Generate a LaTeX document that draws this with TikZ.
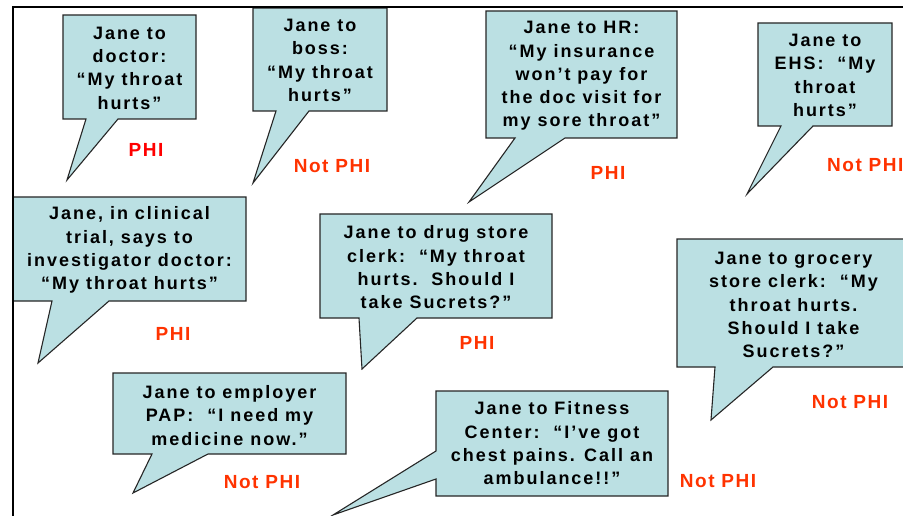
\documentclass[tikz,border=0pt]{standalone}
\usepackage{fontspec}
\newfontfamily\calloutfont[LetterSpace=11]{Liberation Sans}
\newfontfamily\labelfont[LetterSpace=8]{Liberation Sans}
\definecolor{bubblefill}{RGB}{187,224,227}
\definecolor{phired}{RGB}{255,0,0}
\definecolor{notred}{RGB}{255,51,0}
\begin{document}
\begin{tikzpicture}[x=1pt,y=-1pt,
  bubble/.style={fill=bubblefill, draw=black!85, line width=1.1pt, line join=miter},
  said/.style={align=center, font=\calloutfont\bfseries\fontsize{18}{23.3}\selectfont, inner sep=0pt},
  verdict/.style={font=\labelfont\bfseries\fontsize{19}{20}\selectfont, inner sep=0pt},
  frameline/.style={draw=black, line width=2pt}]
\useasboundingbox (0,0) rectangle (903,516);
\fill[white] (0,0) rectangle (903,516);

% 1 doctor
\draw[bubble] (63,15) -- (196,15) -- (196,119) -- (118,119) -- (67,180) -- (86,119) -- (63,119) -- cycle;
\node[said] (s1) at (129.5,68) {Jane to\\doctor:\\“My throat\\hurts”};
% 2 boss
\draw[bubble] (253,8) -- (387,8) -- (387,111) -- (309,111) -- (253,183) -- (276,111) -- (253,111) -- cycle;
\node[said] (s2) at (320,60.5) {Jane to\\boss:\\“My throat\\hurts”};
% 3 HR
\draw[bubble] (486,11) -- (677,11) -- (677,138) -- (565,138) -- (469,202) -- (515,138) -- (486,138) -- cycle;
\node[said] (s3) at (581.5,76) {Jane to HR:\\“My insurance\\won’t pay for\\the doc visit for\\my sore throat”};
% 4 EHS
\draw[bubble] (758,23) -- (892,23) -- (892,126) -- (813,126) -- (747,194) -- (781,126) -- (758,126) -- cycle;
\node[said] (s4) at (825,75.5) {Jane to\\EHS:\ \ “My\\throat\\hurts”};
% 5 clinical
\draw[bubble] (13,197) -- (246,197) -- (246,301) -- (109,301) -- (38,363) -- (52,301) -- (13,301) -- cycle;
\node[said] (s5) at (129.5,250) {Jane, in clinical\\trial, says to\\investigator doctor:\\“My throat hurts”};
% 6 drug store
\draw[bubble] (320,214) -- (552,214) -- (552,318) -- (417,318) -- (362,369) -- (359,318) -- (320,318) -- cycle;
\node[said] (s6) at (436,267.5) {Jane to drug store\\clerk:\ \ “My throat\\hurts.\ \ Should I\\take Sucrets?”};
% 7 grocery
\draw[bubble] (677,239) -- (910,239) -- (910,367) -- (773,367) -- (711,420) -- (715,367) -- (677,367) -- cycle;
\node[said] (s7) at (793.5,305) {Jane to grocery\\store clerk:\ \ “My\\throat hurts.\\Should I take\\Sucrets?”};
% 8 employer
\draw[bubble] (113,373) -- (346,373) -- (346,454) -- (208,454) -- (133,493) -- (152,454) -- (113,454) -- cycle;
\node[said] (s8) at (229.5,415.5) {Jane to employer\\PAP:\ \ “I need my\\medicine now.”};
% 9 fitness
\draw[bubble] (436,391) -- (668,391) -- (668,496) -- (436,496) -- (436,479) -- (333,515) -- (436,451) -- cycle;
\node[said] (s9) at (552,443.5) {Jane to Fitness\\Center:\ \ “I’ve got\\chest pains. Call an\\ambulance!!”};

% verdicts
\node[verdict, text=phired] (v1) at (146,150) {PHI};
\node[verdict, text=notred] (v2) at (332,166) {Not PHI};
\node[verdict, text=notred] (v3) at (608,173) {PHI};
\node[verdict, text=notred, anchor=west] (v4) at (827,165) {Not PHI};
\node[verdict, text=notred] (v5) at (173,334) {PHI};
\node[verdict, text=notred] (v6) at (477,343) {PHI};
\node[verdict, text=notred] (v7) at (850,402) {Not PHI};
\node[verdict, text=notred] (v8) at (262,482) {Not PHI};
\node[verdict, text=notred] (v9) at (718,481) {Not PHI};

% frame
\draw[frameline] (13,516) -- (13,7) -- (903,7);
\end{tikzpicture}
\end{document}
